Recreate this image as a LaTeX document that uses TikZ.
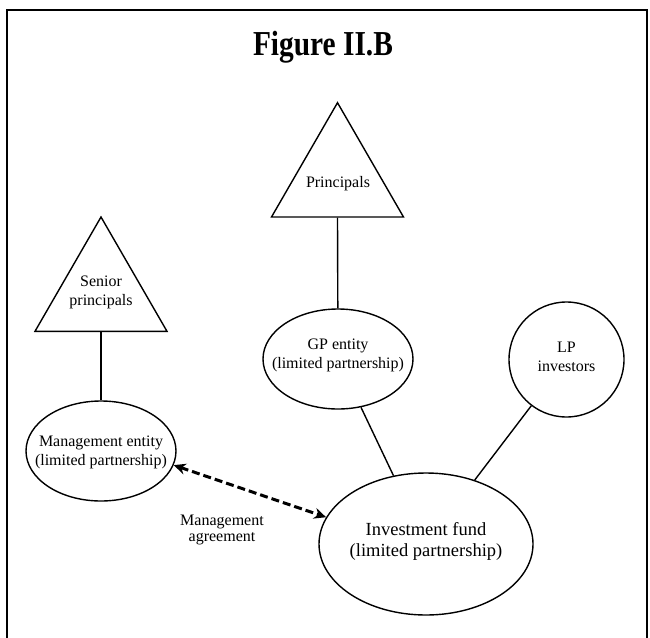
\documentclass[tikz,border=0pt]{standalone}
\usepackage{fontspec}
\setmainfont{Liberation Serif}
\usetikzlibrary{shapes.geometric,arrows.meta}
\begin{document}
\begin{tikzpicture}[x=1pt,y=-1pt,
  shp/.style={draw=black,line width=1.4pt,inner sep=0pt},
  ell/.style={shp,ellipse},
  tri/.style={shp,regular polygon,regular polygon sides=3,minimum size=152.4pt},
  txt/.style={align=center,inner sep=0pt,font=\fontsize{16}{19}\selectfont},
  bigtxt/.style={align=center,inner sep=0pt,font=\fontsize{18.5}{21}\selectfont},
  link/.style={line width=1.4pt},
  frame/.style={line width=2.6pt},
  agree/.style={line width=3pt,dash pattern=on 8pt off 4pt,{Stealth[length=12pt,width=11pt]}-{Stealth[length=12pt,width=11pt]}},
  lbl/.style={align=center,inner sep=0pt,font=\fontsize{16}{16}\selectfont}]
\useasboundingbox (0,0) rectangle (650,637);
\coordinate (fbl) at (7,680);
\coordinate (ftl) at (7,10);
\coordinate (ftr) at (647,10);
\coordinate (fbr) at (647,680);
\draw[frame] (fbl) -- (ftl) -- (ftr) -- (fbr);
\node[inner sep=0pt] (title) at (323,47) {\scalebox{0.84}[1]{\fontsize{35}{35}\selectfont\bfseries Figure II.B}};
\node[tri] (senior) at (101,293.2) {};
\node[txt] (seniort) at (101,292) {Senior\\principals};
\node[tri] (princ) at (337.5,178.9) {};
\node[txt] (princt) at (338,184) {Principals};
\node[ell,minimum width=150pt,minimum height=100pt] (mgmt) at (101,451) {};
\node[txt] (mgmtt) at (101,452) {Management entity\\(limited partnership)};
\node[ell,minimum width=150pt,minimum height=100pt] (gp) at (338,359) {};
\node[txt] (gpt) at (338,355) {GP entity\\(limited partnership)};
\node[shp,circle,minimum size=115pt] (lp) at (566.5,359.5) {};
\node[txt] (lpt) at (566.5,357) {LP\\investors};
\node[ell,minimum width=214pt,minimum height=142pt] (fund) at (426,544) {};
\node[bigtxt] (fundt) at (426,541) {Investment fund\\(limited partnership)};
\node[lbl] (agr) at (222,530) {Management\\agreement};
\draw[link] (senior.south) -- (mgmt);
\draw[link] (princ.south) -- (gp);
\draw[link] (gp) -- (fund);
\draw[link] (lp) -- (fund);
\draw[agree] (mgmt.-11.6) -- (fund.165.3);
\end{tikzpicture}
\end{document}
